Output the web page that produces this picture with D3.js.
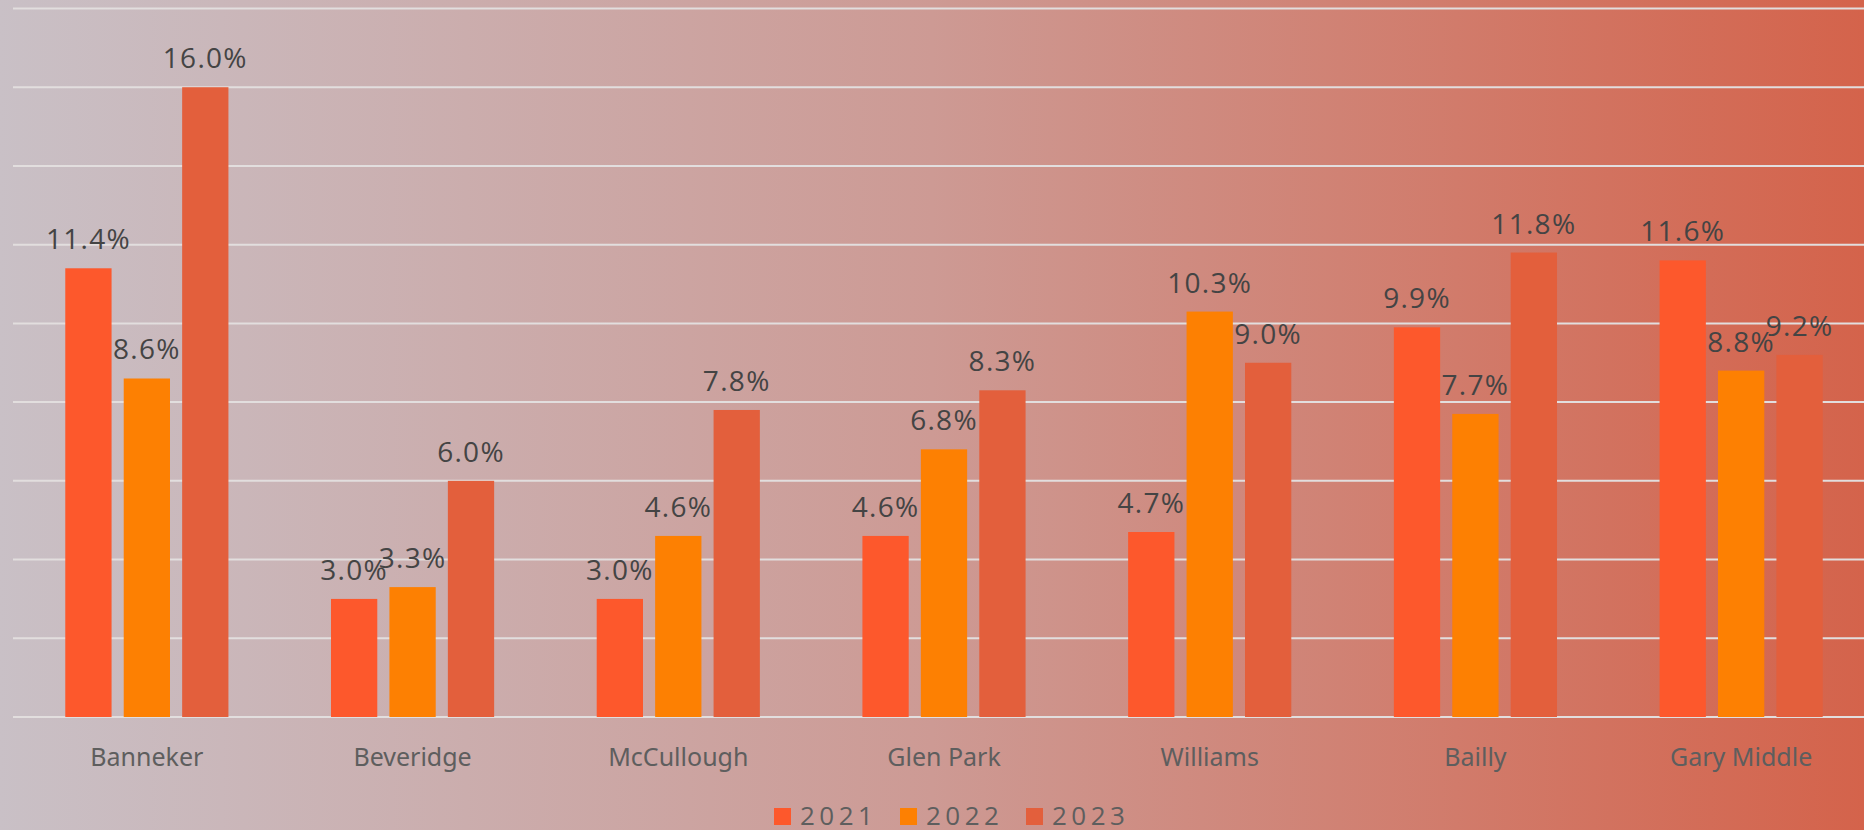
<!DOCTYPE html>
<html>
<head>
<meta charset="utf-8">
<script src="https://cdn.jsdelivr.net/npm/d3@7"></script>
<style>
  html, body { margin: 0; padding: 0; }
  body { width: 1864px; height: 830px; overflow: hidden; }
</style>
</head>
<body>
<script>
// data
var schools = ["Banneker", "Beveridge", "McCullough", "Glen Park", "Williams", "Bailly", "Gary Middle"];
var years = ["2021", "2022", "2023"];
var v2021 = [11.4, 3.0, 3.0, 4.6, 4.7, 9.9, 11.6];
var v2022 = [8.6, 3.3, 4.6, 6.8, 10.3, 7.7, 8.8];
var v2023 = [16.0, 6.0, 7.8, 8.3, 9.0, 11.8, 9.2];
var yTicks = [0, 2, 4, 6, 8, 10, 12, 14, 16, 18];
var colors = ["#FD582C", "#FD8002", "#E35F3C"];

var series = [v2021, v2022, v2023];

var width = 1864, height = 830;

var svg = d3.select("body").append("svg")
    .attr("width", width)
    .attr("height", height);

// achtergrond met verloop
var grad = svg.append("defs").append("linearGradient")
    .attr("id", "bg")
    .attr("x1", "0%").attr("y1", "0%")
    .attr("x2", "100%").attr("y2", "0%");
grad.append("stop").attr("offset", "0%").attr("stop-color", "#C9C0C6");
grad.append("stop").attr("offset", "50%").attr("stop-color", "#CD9A94");
grad.append("stop").attr("offset", "100%").attr("stop-color", "#D4634B");

svg.append("rect")
    .attr("width", width)
    .attr("height", height)
    .attr("fill", "url(#bg)");

// schalen
var x0 = d3.scaleBand()
    .domain(schools)
    .range([14, 1874])
    .paddingInner(0.386)
    .paddingOuter(0.193);

var x1 = d3.scaleBand()
    .domain(years)
    .range([0, x0.bandwidth()])
    .paddingInner(0.208);

var y = d3.scaleLinear()
    .domain([0, 18])
    .range([717, 8.5]);

// rasterlijnen
svg.append("g")
    .selectAll("line")
    .data(yTicks)
    .enter().append("line")
    .attr("x1", 13)
    .attr("x2", width)
    .attr("y1", function(d) { return y(d); })
    .attr("y2", function(d) { return y(d); })
    .attr("stroke", "#E2DEDE")
    .attr("stroke-width", 2);

// staven
var groups = svg.append("g")
    .selectAll("g")
    .data(schools)
    .enter().append("g")
    .attr("transform", function(d) { return "translate(" + x0(d) + ",0)"; });

var bars = groups.selectAll("rect")
    .data(function(d, i) {
        return years.map(function(yr, j) { return { year: yr, value: series[j][i], k: j }; });
    })
    .enter();

bars.append("rect")
    .attr("x", function(d) { return x1(d.year); })
    .attr("width", x1.bandwidth())
    .attr("y", function(d) { return y(d.value); })
    .attr("height", function(d) { return y(0) - y(d.value); })
    .attr("fill", function(d) { return colors[d.k]; });

bars.append("text")
    .attr("x", function(d) { return x1(d.year) + x1.bandwidth() / 2; })
    .attr("y", function(d) { return y(d.value) - 19; })
    .attr("text-anchor", "middle")
    .attr("font-family", "'Open Sans', sans-serif")
    .attr("font-size", 28)
    .attr("letter-spacing", 1.3)
    .attr("fill", "#444444")
    .text(function(d) { return d.value.toFixed(1) + "%"; });

// x-as labels
var xAxis = d3.axisBottom(x0).tickSize(0).tickPadding(0);
var xg = svg.append("g")
    .attr("transform", "translate(0," + 766 + ")")
    .call(xAxis);
xg.select(".domain").remove();
xg.selectAll("text")
    .attr("dy", 0)
    .attr("y", 0)
    .attr("font-family", "'Noto Sans', sans-serif")
    .attr("font-size", 25)
    .attr("fill", "#5E5E5E");

// legenda
var legend = svg.append("g")
    .selectAll("g")
    .data(years)
    .enter().append("g")
    .attr("transform", function(d, i) { return "translate(" + (774 + i * 126) + ",808)"; });

legend.append("rect")
    .attr("width", 17)
    .attr("height", 17)
    .attr("fill", function(d, i) { return colors[i]; });

legend.append("text")
    .attr("x", 26)
    .attr("y", 17)
    .attr("font-family", "'Open Sans', sans-serif")
    .attr("font-size", 26)
    .attr("letter-spacing", 4.5)
    .attr("fill", "#5E5E5E")
    .text(function(d) { return d; });
</script>
</body>
</html>
